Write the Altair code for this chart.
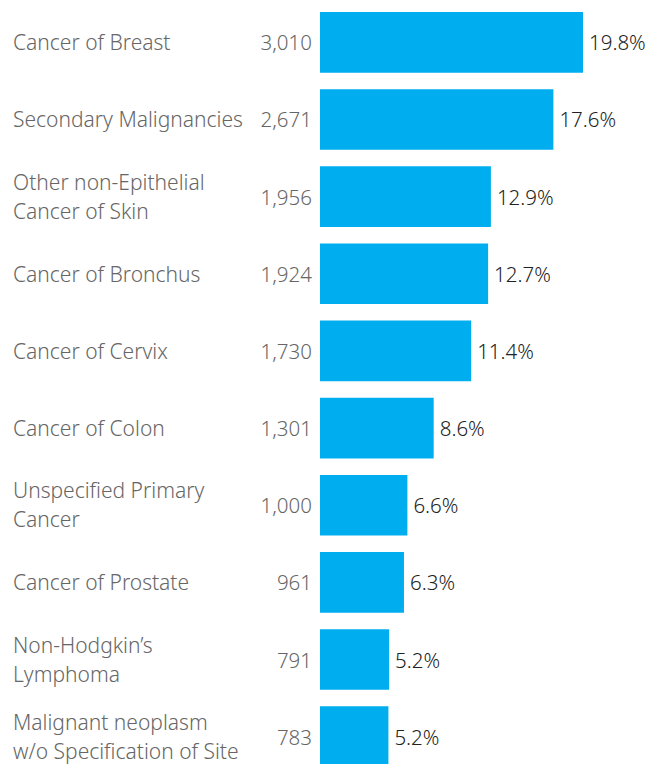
import altair as alt
import pandas as pd

categories = [
    "Cancer of Breast",
    "Secondary Malignancies",
    "Other non-Epithelial|Cancer of Skin",
    "Cancer of Bronchus",
    "Cancer of Cervix",
    "Cancer of Colon",
    "Unspecified Primary|Cancer",
    "Cancer of Prostate",
    "Non-Hodgkin\u2019s|Lymphoma",
    "Malignant neoplasm|w/o Specification of Site",
]
counts = [3010, 2671, 1956, 1924, 1730, 1301, 1000, 961, 791, 783]
percents = ["19.8%", "17.6%", "12.9%", "12.7%", "11.4%", "8.6%", "6.6%", "6.3%", "5.2%", "5.2%"]

df = pd.DataFrame({
    "label": categories,
    "count": counts,
    "pct": percents,
})
df["key"] = [str(i) for i in range(len(categories))]
order = list(df["key"])

FONT = "Noto Sans"
FS = 21
FN = 20.5
W = 300
y = alt.Y("key:N", sort=order, axis=None,
          scale=alt.Scale(paddingInner=0.214, paddingOuter=0.052))

base = alt.Chart(df).encode(y=y)

bars = base.mark_bar(color="#00AEEF").encode(
    x=alt.X("count:Q", axis=None, scale=alt.Scale(domain=[0, 3628], nice=False, zero=True)),
)

pct = base.mark_text(align="left", baseline="middle", dx=6, dy=2, font=FONT,
                     fontSize=FN, fontWeight=W, color="#222222").encode(
    x="count:Q", text="pct:N")

cnt = base.mark_text(align="right", baseline="middle", dy=2, font=FONT,
                     fontSize=FN, fontWeight=W, color="#666666").encode(
    x=alt.value(-8), text=alt.Text("count:Q", format=","))

lab1 = base.transform_filter("indexof(datum.label, '|') < 0").mark_text(
    align="left", baseline="middle", font=FONT, dy=2,
    fontSize=FS, fontWeight=W, color="#666666").encode(
    x=alt.value(-307), text="label:N")

lab2 = base.transform_filter("indexof(datum.label, '|') >= 0").mark_text(
    align="left", baseline="middle", font=FONT, dy=-13,
    fontSize=FS, fontWeight=W, color="#666666", lineBreak="|", lineHeight=29).encode(
    x=alt.value(-307), text="label:N")

chart = alt.layer(bars, pct, cnt, lab1, lab2).properties(
    width=317, height=763,
    padding={"left": 312, "top": 0, "right": 8, "bottom": 0},
    autosize=alt.AutoSizeParams(type="none"),
).configure_view(stroke=None)

chart.save("out.html", embed_options={"renderer": "svg", "actions": False})
